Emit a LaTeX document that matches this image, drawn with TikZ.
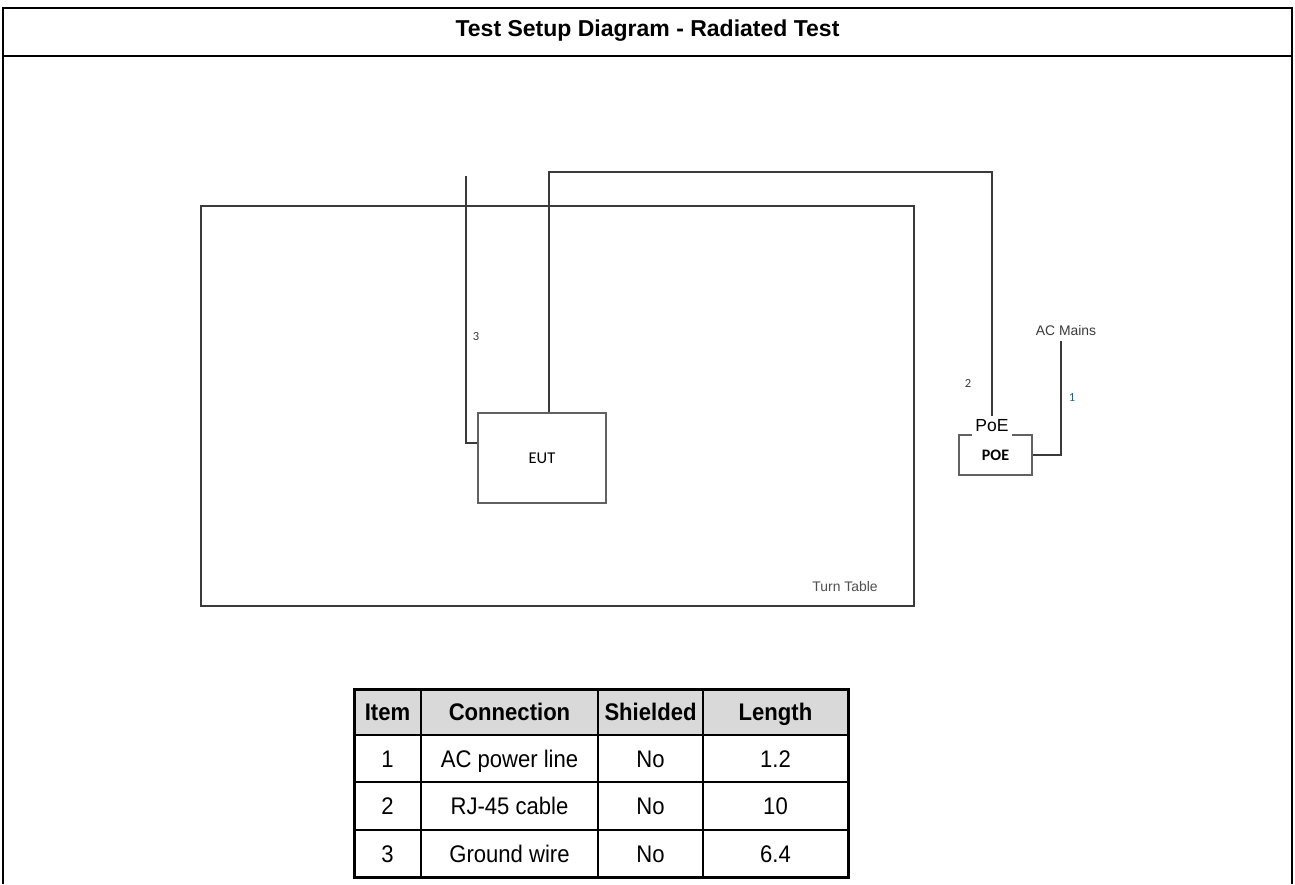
\documentclass[tikz,border=0pt]{standalone}
\usepackage{fontspec}
\usepackage{graphicx}
\setmainfont{Liberation Sans}
\newfontfamily\calfont{Carlito}
\definecolor{hdrgray}{HTML}{D9D9D9}
\definecolor{wire}{HTML}{3A3A3A}
\definecolor{lblblue}{HTML}{1F5FA8}
\newcommand{\cnd}[1]{\scalebox{0.92}[1]{#1}}
\begin{document}
\begin{tikzpicture}[x=1pt,y=-1pt,
  wireline/.style={draw=wire,line width=1.2pt},
  boxgray/.style={draw=wire!80,line width=1.3pt,inner sep=0pt},
  smalllbl/.style={font=\calfont\fontsize{12.5}{14}\selectfont,text=wire,inner sep=0pt},
  tcell/.style={font=\fontsize{24}{27}\selectfont,inner sep=0pt,text height=17pt,text depth=0pt},
  thdr/.style={font=\bfseries\fontsize{24}{27}\selectfont,inner sep=0pt,text height=17pt,text depth=0pt}]
\useasboundingbox (0,0) rectangle (1295,884);
% outer frame
\draw[line width=2.6pt] (3,884) -- (3,8) -- (1292,8) -- (1292,884);
\draw[line width=2.6pt] (3,56) -- (1292,56);
\node[font=\bfseries\fontsize{23}{26}\selectfont] (title) at (647.5,31) {Test Setup Diagram - Radiated Test};
% turn table
\node[draw=wire,line width=1.2pt,minimum width=713pt,minimum height=400pt,inner sep=0pt] (tt) at (557.5,406) {};
\node[font=\fontsize{13.9}{16}\selectfont,text=wire!90] (ttl) at (845,587) {Turn Table};
% EUT
\node[boxgray,minimum width=128pt,minimum height=90pt,font=\calfont\fontsize{16.5}{19}\selectfont] (eut) at (542,458) {EUT};
% POE
\node[boxgray,minimum width=73pt,minimum height=40pt,font=\calfont\bfseries\fontsize{16}{19}\selectfont] (poe) at (995.5,455) {POE};
\node[fill=white,inner sep=3.5pt,font=\fontsize{17.5}{20}\selectfont] (poelbl) at (992,426) {PoE};
% wires
\coordinate (gtop) at (466,176);
\coordinate (rjtop) at (992,172);
\coordinate (ac) at (1061,341);
\draw[wireline] (gtop) |- ([yshift=15pt]eut.west);
\draw[wireline] ([xshift=7pt]eut.north) |- (rjtop) -- (poelbl.north);
\draw[wireline] (poe.east) -| (ac);
\node[font=\fontsize{13.9}{16}\selectfont,text=wire,anchor=south] (acl) at (1066,339) {AC Mains};
\node[smalllbl] (l3) at (476,336) {3};
\node[smalllbl] (l2) at (968,383) {2};
\node[smalllbl,text=lblblue] (l1) at (1072,397) {1};
% table
\fill[hdrgray] (354,689) rectangle (848,735);
\draw[line width=2pt] (354,735) -- (848,735) (354,782) -- (848,782) (354,830) -- (848,830);
\draw[line width=2pt] (421,689) -- (421,877) (598,689) -- (598,877) (703,689) -- (703,877);
\draw[line width=3pt] (354,689) rectangle (848,877);
\node[thdr] (h1) at (387.5,712) {\cnd{Item}};
\node[thdr] (h2) at (509.5,712) {\cnd{Connection}};
\node[thdr] (h3) at (650.5,712) {\cnd{Shielded}};
\node[thdr] (h4) at (775.5,712) {\cnd{Length}};
\node[tcell] (a1) at (387.5,758.5) {\cnd{1}};
\node[tcell] (a2) at (509.5,758.5) {\cnd{AC power line}};
\node[tcell] (a3) at (650.5,758.5) {\cnd{No}};
\node[tcell] (a4) at (775.5,758.5) {\cnd{1.2}};
\node[tcell] (b1) at (387.5,806) {\cnd{2}};
\node[tcell] (b2) at (509.5,806) {\cnd{RJ-45 cable}};
\node[tcell] (b3) at (650.5,806) {\cnd{No}};
\node[tcell] (b4) at (775.5,806) {\cnd{10}};
\node[tcell] (c1) at (387.5,853.5) {\cnd{3}};
\node[tcell] (c2) at (509.5,853.5) {\cnd{Ground wire}};
\node[tcell] (c3) at (650.5,853.5) {\cnd{No}};
\node[tcell] (c4) at (775.5,853.5) {\cnd{6.4}};
\end{tikzpicture}
\end{document}
